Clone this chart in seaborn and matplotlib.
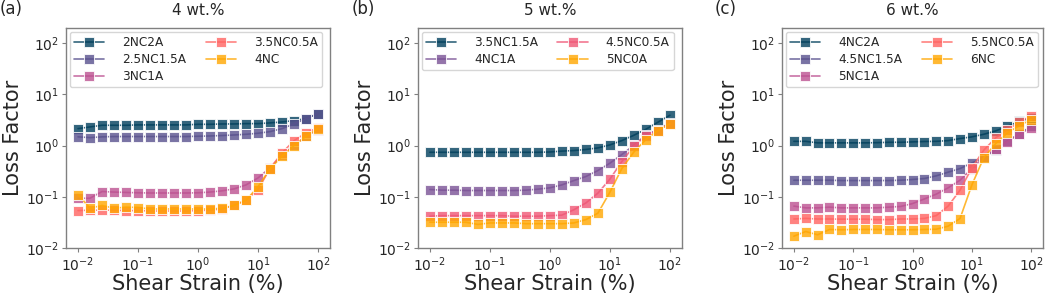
import numpy as np
import pandas as pd
import seaborn as sns
import matplotlib.pyplot as plt
from matplotlib.ticker import LogLocator, NullLocator

# shear strain (%), 5 points per decade from 1e-2 to 1e2
strain = [0.01, 0.0158, 0.0251, 0.0398, 0.0631, 0.1, 0.158, 0.251, 0.398, 0.631,
          1.0, 1.58, 2.51, 3.98, 6.31, 10.0, 15.8, 25.1, 39.8, 63.1, 100.0]

# (a) 4 wt.%
a_2NC2A = [2.14, 2.31, 2.49, 2.49, 2.49, 2.53, 2.53, 2.53, 2.53, 2.53, 2.60,
           2.60, 2.64, 2.64, 2.68, 2.68, 2.77, 2.89, 3.07, 3.36, 4.20]
a_25NC15A = [1.48, 1.43, 1.48, 1.50, 1.50, 1.50, 1.50, 1.50, 1.50, 1.50, 1.52,
             1.54, 1.57, 1.61, 1.66, 1.74, 1.87, 2.14, 2.64, 3.36, 4.20]
a_3NC1A = [0.094, 0.094, 0.127, 0.124, 0.122, 0.120, 0.119, 0.119, 0.119, 0.119, 0.120,
           0.124, 0.131, 0.143, 0.171, 0.234, 0.367, 0.65, 1.01, 1.52, 2.05]
a_35NC05A = [0.054, 0.055, 0.055, 0.055, 0.054, 0.054, 0.053, 0.053, 0.053, 0.053, 0.054,
             0.055, 0.058, 0.068, 0.086, 0.139, 0.356, 0.72, 1.25, 1.77, 2.24]
a_4NC = [0.111, 0.060, 0.068, 0.060, 0.063, 0.062, 0.058, 0.058, 0.058, 0.058, 0.058,
         0.058, 0.060, 0.068, 0.086, 0.157, 0.351, 0.62, 1.00, 1.52, 2.14]

# (b) 5 wt.%
b_35NC15A = [0.74, 0.74, 0.74, 0.74, 0.74, 0.74, 0.74, 0.74, 0.74, 0.74, 0.75,
             0.78, 0.80, 0.84, 0.90, 1.03, 1.25, 1.59, 2.08, 2.85, 3.90]
b_4NC1A = [0.139, 0.135, 0.135, 0.133, 0.133, 0.133, 0.133, 0.133, 0.135, 0.141, 0.150,
           0.171, 0.208, 0.249, 0.326, 0.453, 0.668, 1.01, 1.61, 2.05, 2.77]
b_45NC05A = [0.042, 0.043, 0.043, 0.043, 0.043, 0.043, 0.043, 0.042, 0.042, 0.042, 0.043,
             0.044, 0.056, 0.076, 0.118, 0.221, 0.488, 0.97, 1.57, 1.96, 2.68]
b_5NC0A = [0.032, 0.032, 0.032, 0.032, 0.029, 0.031, 0.031, 0.031, 0.030, 0.030, 0.030,
           0.030, 0.031, 0.036, 0.048, 0.123, 0.356, 0.75, 1.31, 1.96, 2.68]

# (c) 6 wt.%
c_4NC2A = [1.21, 1.21, 1.13, 1.13, 1.13, 1.13, 1.13, 1.14, 1.16, 1.16, 1.18,
           1.20, 1.21, 1.25, 1.37, 1.48, 1.66, 1.93, 2.38, 2.98, 3.46]
c_45NC15A = [0.211, 0.211, 0.211, 0.211, 0.208, 0.208, 0.208, 0.208, 0.208, 0.211, 0.218,
             0.228, 0.257, 0.303, 0.356, 0.459, 0.575, 0.836, 1.23, 1.69, 2.38]
c_5NC1A = [0.066, 0.061, 0.061, 0.063, 0.061, 0.061, 0.061, 0.061, 0.063, 0.065, 0.074,
           0.091, 0.113, 0.150, 0.211, 0.356, 0.60, 0.86, 1.20, 1.69, 2.21]
c_55NC05A = [0.037, 0.038, 0.037, 0.037, 0.0367, 0.0367, 0.0367, 0.036, 0.036, 0.037, 0.037,
             0.038, 0.043, 0.066, 0.135, 0.367, 0.81, 1.41, 2.05, 2.85, 3.84]
c_6NC = [0.0171, 0.0211, 0.0182, 0.0231, 0.0228, 0.0231, 0.0231, 0.0231, 0.0228, 0.0228, 0.0228,
         0.0231, 0.0234, 0.0268, 0.0378, 0.171, 0.575, 1.09, 1.77, 2.45, 3.21]

panels = [
    ('(a)', '4 wt.%',
     ['2NC2A', '2.5NC1.5A', '3NC1A', '3.5NC0.5A', '4NC'],
     [a_2NC2A, a_25NC15A, a_3NC1A, a_35NC05A, a_4NC],
     ['#003f5c', '#58508d', '#bc5090', '#ff6361', '#ffa600']),
    ('(b)', '5 wt.%',
     ['3.5NC1.5A', '4NC1A', '4.5NC0.5A', '5NC0A'],
     [b_35NC15A, b_4NC1A, b_45NC05A, b_5NC0A],
     ['#003f5c', '#7a5195', '#ef5675', '#ffa600']),
    ('(c)', '6 wt.%',
     ['4NC2A', '4.5NC1.5A', '5NC1A', '5.5NC0.5A', '6NC'],
     [c_4NC2A, c_45NC15A, c_5NC1A, c_55NC05A, c_6NC],
     ['#003f5c', '#58508d', '#bc5090', '#ff6361', '#ffa600']),
]

sns.set_style('white')
plt.rcParams['font.family'] = ['DejaVu Sans']

fig = plt.figure(figsize=(10.5, 2.94), dpi=100)
lefts = [0.0629, 0.398, 0.7448]
widths = [0.2514, 0.2514, 0.2486]
label_x = [0.0, 0.335, 0.681]

for i, (tag, title, names, series, colors) in enumerate(panels):
    ax = fig.add_axes([lefts[i], 0.156, widths[i], 0.749])
    rows = []
    for name, vals in zip(names, series):
        for s, v in zip(strain, vals):
            rows.append({'strain': s, 'loss': v, 'sample': name})
    df = pd.DataFrame(rows)
    sns.lineplot(data=df, x='strain', y='loss', hue='sample', hue_order=names,
                 palette=dict(zip(names, colors)), marker='s', markersize=7,
                 alpha=0.8, linewidth=1.2, ax=ax)
    ax.set_xscale('log')
    ax.set_yscale('log')
    ax.set_ylim(1e-2, 197)
    ax.set_xlim(10**-2.2, 10**2.2)
    ax.xaxis.set_major_locator(LogLocator(base=10, numticks=10))
    ax.yaxis.set_major_locator(LogLocator(base=10, numticks=10))
    ax.xaxis.set_minor_locator(NullLocator())
    ax.yaxis.set_minor_locator(NullLocator())
    ax.tick_params(axis='both', which='major', labelsize=10, length=3,
                   pad=2, color='#808080', direction='out', bottom=True, left=True)
    for sp in ax.spines.values():
        sp.set_color('#808080')
        sp.set_linewidth(1.0)
    ax.set_xlabel('Shear Strain (%)', fontsize=15, labelpad=0)
    ax.set_ylabel('Loss Factor', fontsize=15, labelpad=2)
    ax.set_title(title, fontsize=11, pad=9)
    ax.legend(loc='upper left', ncol=2, fontsize=8.7, frameon=True,
              handlelength=2.5, columnspacing=1.6, labelspacing=0.35,
              borderpad=0.35, handletextpad=1.5, borderaxespad=0.3)
    fig.text(label_x[i], 0.97, tag, fontsize=12, ha='left', va='center')

fig.savefig('out.png', dpi=100)
